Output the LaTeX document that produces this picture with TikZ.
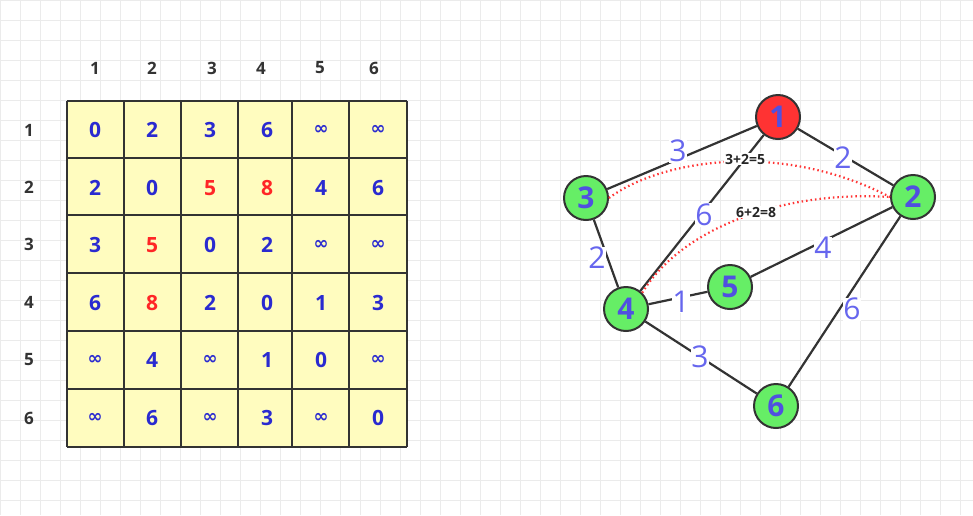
\documentclass[tikz,border=0pt]{standalone}
\usepackage{fontspec}
\setmainfont{Open Sans}
\newfontfamily\dvs{DejaVu Sans}
\definecolor{ngreen}{HTML}{66EE66}
\definecolor{nred}{HTML}{FF3333}
\definecolor{wblue}{HTML}{6666EE}
\definecolor{nblue}{HTML}{5050E0}
\definecolor{mblue}{HTML}{2A2AD0}
\begin{document}
\begin{tikzpicture}[x=1pt,y=-1pt,
  vert/.style={circle,draw=black!80,line width=2pt,minimum size=44pt,inner sep=0pt,font=\fontsize{30}{30}\selectfont\bfseries,text=nblue},
  grn/.style={vert,fill=ngreen},
  redv/.style={vert,fill=nred},
  edge/.style={draw=black!80,line width=2.2pt},
  wt/.style={fill=white,inner sep=0.5pt,font=\fontsize{30}{30}\selectfont,text=wblue},
  dot/.style={draw=red!80,line width=2.2pt,dash pattern=on 1.5pt off 3pt},
  sum/.style={fill=white,inner sep=1pt,font=\fontsize{14}{14}\selectfont\bfseries,text=black!85},
  hdr/.style={font=\fontsize{17}{17}\selectfont\bfseries,text=black!80},
  cv/.style={font=\fontsize{21}{21}\selectfont\bfseries,text=mblue},
  cr/.style={font=\fontsize{21}{21}\selectfont\bfseries,text=red!85}]
\useasboundingbox (0,0) rectangle (973,515);
\fill[white] (0,0) rectangle (973,515);
\foreach \x in {0,20,...,960} \draw[black!8,line width=0.6pt] (\x,0) -- (\x,515);
\foreach \y in {0,20,...,500} \draw[black!8,line width=0.6pt] (0,\y) -- (973,\y);
% matrix
\fill[yellow!25] (67,101) rectangle (407,447);
\foreach \x in {67,124,181,238,292,349,407} \draw[black!80,line width=2pt] (\x,101) -- (\x,447);
\foreach \y in {101,158,215,273,331,389,447} \draw[black!80,line width=2pt] (67,\y) -- (407,\y);
\foreach \t/\x in {1/95,2/152,3/212,4/261,5/320,6/374} \node[hdr] (c\t) at (\x,68) {\t};
\foreach \t/\y in {1/130,2/187,3/244,4/302,5/360,6/418} \node[hdr] (r\t) at (29,\y) {\t};
\def\I{{\dvs\bfseries\fontsize{18}{18}\selectfont ∞}}
\foreach \v/\s [count=\k from 0] in {0/cv,2/cv,3/cv,6/cv,\I/cv,\I/cv,
  2/cv,0/cv,5/cr,8/cr,4/cv,6/cv,
  3/cv,5/cr,0/cv,2/cv,\I/cv,\I/cv,
  6/cv,8/cr,2/cv,0/cv,1/cv,3/cv,
  \I/cv,4/cv,\I/cv,1/cv,0/cv,\I/cv,
  \I/cv,6/cv,\I/cv,3/cv,\I/cv,0/cv}{
  \pgfmathtruncatemacro{\i}{div(\k,6)}
  \pgfmathtruncatemacro{\j}{mod(\k,6)}
  \pgfmathsetmacro{\xx}{{95,152,210,267,321,378}[\j]}
  \pgfmathsetmacro{\yy}{130+\i*57.6}
  \node[\s] (m\k) at (\xx,\yy) {\v};
}
% graph
\node[redv] (n1) at (778,117) {1};
\node[grn] (n2) at (913,197) {2};
\node[grn] (n3) at (586,198) {3};
\node[grn] (n4) at (626,309) {4};
\node[grn] (n5) at (730,287) {5};
\node[grn] (n6) at (776,406) {6};
\draw[edge] (n1) -- (n3);
\draw[edge] (n1) -- (n2);
\draw[edge] (n1) -- (n4);
\draw[edge] (n3) -- (n4);
\draw[edge] (n2) -- (n5);
\draw[edge] (n4) -- (n5);
\draw[edge] (n4) -- (n6);
\draw[edge] (n2) -- (n6);
\draw[dot] (n3.east) .. controls (660,160) and (780,140) .. (n2.west);
\draw[dot] (n4.north east) .. controls (680,230) and (780,190) .. (n2.west);
\node[wt] (w13) at (678,151) {3};
\node[wt] (w12) at (843,158) {2};
\node[wt] (w14) at (704,215) {6};
\node[wt] (w34) at (597,258) {2};
\node[wt] (w25) at (823,248) {4};
\node[wt] (w45) at (681,302) {1};
\node[wt] (w46) at (700,357) {3};
\node[wt] (w26) at (852,309) {6};
\node[sum] (s1) at (745,159) {3+2=5};
\node[sum] (s2) at (756,212) {6+2=8};
\end{tikzpicture}
\end{document}
